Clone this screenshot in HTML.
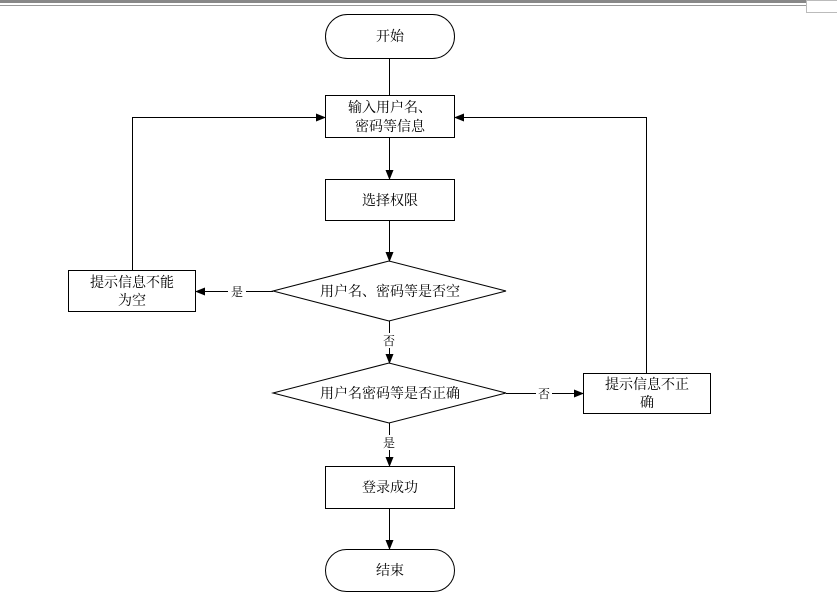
<!DOCTYPE html>
<html><head><meta charset="utf-8"><style>
html,body{margin:0;padding:0;background:#fff;}
svg{display:block;}
text{font-family:"Liberation Serif","Noto Serif CJK SC",serif;fill:#000;}
</style></head><body>
<svg width="837" height="597" viewBox="0 0 837 597" xmlns="http://www.w3.org/2000/svg">
<defs><marker id="a" markerWidth="10" markerHeight="10" refX="9" refY="5" orient="auto" markerUnits="userSpaceOnUse"><path d="M0,1 L10,5 L0,9 z" fill="#000"/></marker></defs>
<rect x="0" y="0" width="806" height="3" fill="#888"/>
<rect x="0" y="5" width="806" height="1" fill="#999"/>
<rect x="806.5" y="0.5" width="31" height="12" fill="#fff" stroke="#bbb"/>
<g fill="#fff" stroke="#000" stroke-width="1">
<rect x="325.5" y="14.5" width="129" height="44" rx="22"/>
<rect x="325.5" y="95.5" width="129" height="42"/>
<rect x="325.5" y="179.5" width="129" height="41"/>
<polygon points="273,291 389,261 506,291 389,321"/>
<polygon points="273,393 389,363 506,393 389,423"/>
<rect x="68.5" y="270.5" width="127" height="41"/>
<rect x="583.5" y="373.5" width="127" height="40"/>
<rect x="325.5" y="466.5" width="129" height="42"/>
<rect x="325.5" y="549.5" width="129" height="42" rx="21"/>
</g>
<g stroke="#000" stroke-width="1" fill="none">
<line x1="389.5" y1="59" x2="389.5" y2="95"/>
<line x1="389.5" y1="138" x2="389.5" y2="179" marker-end="url(#a)"/>
<line x1="389.5" y1="221" x2="389.5" y2="261" marker-end="url(#a)"/>
<line x1="273" y1="291.5" x2="246" y2="291.5"/>
<line x1="228" y1="291.5" x2="196" y2="291.5" marker-end="url(#a)"/>
<line x1="389.5" y1="321" x2="389.5" y2="333"/>
<line x1="389.5" y1="348" x2="389.5" y2="363" marker-end="url(#a)"/>
<line x1="506" y1="393.5" x2="536" y2="393.5"/>
<line x1="552" y1="393.5" x2="583" y2="393.5" marker-end="url(#a)"/>
<line x1="389.5" y1="423" x2="389.5" y2="435"/>
<line x1="389.5" y1="450" x2="389.5" y2="466" marker-end="url(#a)"/>
<line x1="389.5" y1="509" x2="389.5" y2="549" marker-end="url(#a)"/>
<polyline points="132.5,270 132.5,117.5 325,117.5" marker-end="url(#a)"/>
<polyline points="646.5,373 646.5,117.5 455,117.5" marker-end="url(#a)"/>
</g>
<g font-size="14" text-anchor="middle">
<text x="390" y="41">开始</text>
<text x="390" y="112">输入用户名、</text>
<text x="390" y="131">密码等信息</text>
<text x="390" y="205">选择权限</text>
<text x="390" y="296">用户名、密码等是否空</text>
<text x="390" y="398">用户名密码等是否正确</text>
<text x="132" y="287">提示信息不能</text>
<text x="132" y="305">为空</text>
<text x="647" y="389">提示信息不正</text>
<text x="647" y="407">确</text>
<text x="390" y="492">登录成功</text>
<text x="390" y="575">结束</text>
</g>
<g font-size="12" text-anchor="middle">
<text x="237" y="296">是</text>
<text x="389" y="345">否</text>
<text x="544" y="398">否</text>
<text x="389" y="447">是</text>
</g>
</svg>
</body></html>
